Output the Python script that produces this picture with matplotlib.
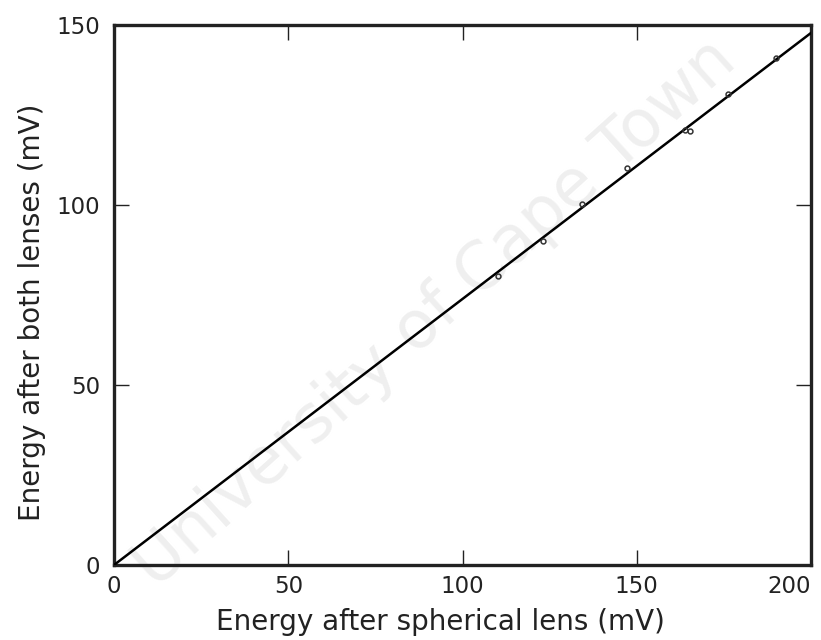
import matplotlib
matplotlib.use("Agg")
import matplotlib.pyplot as plt
import numpy as np

# data
x_points = [110.2, 123.1, 134.3, 147.2, 163.8, 165.3, 176.2, 190.0]
y_points = [80.3, 90.0, 100.3, 110.3, 120.8, 120.6, 130.8, 140.8]
fit_x = [0, 200]
fit_y = [0, 147.8]
x_ticks = [0, 50, 100, 150, 200]
y_ticks = [0, 50, 100, 150]
x_label = "Energy after spherical lens (mV)"
y_label = "Energy after both lenses (mV)"

plt.rcParams['font.family'] = ['DejaVu Sans']

fig = plt.figure(figsize=(8.21, 6.40), dpi=100)
ax = fig.add_axes([114/821, 1-565/640, (811-114)/821, (565-25)/640])

fig.text(0.53, 0.51, "University of Cape Town", fontsize=47, color="#efefef",
         rotation=42, ha="center", va="center", zorder=-5)

ax.plot(fit_x, fit_y, color="black", lw=1.8, zorder=3)
ax.plot(x_points, y_points, 'o', ms=3.5, mfc="none", mec="#333333", mew=1.1, zorder=4)

ax.set_xlim(0, 200)
ax.set_ylim(0, 150)
ax.set_xticks(x_ticks)
ax.set_yticks(y_ticks)
ax.tick_params(direction="in", length=11, width=1.0, top=True, right=True,
               labelsize=16.5, colors="#222222")
ax.tick_params(axis="x", pad=7)
ax.tick_params(axis="y", pad=10)
xl = ax.get_xticklabels()
xl[-1].set_ha("right")
for s in ax.spines.values():
    s.set_linewidth(2.4)
    s.set_color("#222222")
ax.patch.set_alpha(0)
ax.set_xlabel(x_label, fontsize=20, color="#222222")
ax.set_ylabel(y_label, fontsize=20, color="#222222")
ax.xaxis.set_label_coords((440-114)/697, (565-622)/540)
ax.xaxis.label.set_va("center")
ax.yaxis.set_label_coords((32-114)/697, (565-312)/540)
ax.yaxis.label.set_va("center")

fig.savefig("out.png", dpi=100)
